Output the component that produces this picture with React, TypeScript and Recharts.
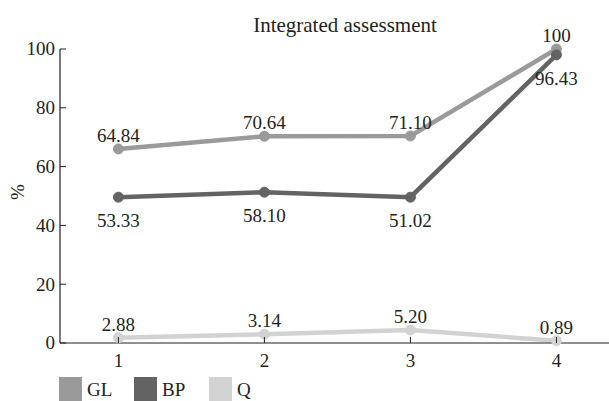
import * as React from "react"
import { LineChart, Line, XAxis, YAxis, LabelList } from "recharts"

// values (point positions), labels as printed
const categories = [1, 2, 3, 4]
const glValues = [66, 70.3, 70.4, 100]
const bpValues = [49.6, 51.3, 49.6, 98]
const qValues = [1.8, 3.0, 4.4, 0.8]
const glLabels = ["64.84", "70.64", "71.10", "100"]
const bpLabels = ["53.33", "58.10", "51.02", "96.43"]
const qLabels = ["2.88", "3.14", "5.20", "0.89"]
const yTicks = [0, 20, 40, 60, 80, 100]

const seriesNames = ["GL", "BP", "Q"]
const seriesColors = ["#9a9a9a", "#636363", "#d2d2d2"]

const data = categories.map((c, i) => ({
  x: c,
  GL: glValues[i],
  BP: bpValues[i],
  Q: qValues[i],
  GLLabel: glLabels[i],
  BPLabel: bpLabels[i],
  QLabel: qLabels[i],
}))

const FONT = "'Liberation Serif', 'DejaVu Serif', serif"
const INK = "#231f20"

const YTick = ({ x, y, payload }: any) => (
  <g>
    <line x1={x + 5} x2={x + 11} y1={y} y2={y} stroke={INK} strokeWidth={1} />
    <text x={x} y={y} dy="0.34em" textAnchor="end" fontFamily={FONT} fontSize={19} fill={INK}>
      {payload.value}
    </text>
  </g>
)

const XTick = ({ x, y, payload }: any) => (
  <g>
    <line x1={x} x2={x} y1={y} y2={y - 6} stroke={INK} strokeWidth={1} />
    <text x={x} y={y + 24} textAnchor="middle" fontFamily={FONT} fontSize={19} fill={INK}>
      {payload.value}
    </text>
  </g>
)

const makeLabel = (below: boolean) => (props: any) => {
  const { x, y, value } = props
  return (
    <text
      x={x}
      y={below ? y + 30 : y - 7}
      textAnchor="middle"
      fontFamily={FONT}
      fontSize={19}
      fill={INK}
    >
      {value}
    </text>
  )
}

export default function App() {
  return (
    <div style={{ position: "absolute", left: 0, top: 0, width: 609, height: 401, background: "#fff", overflow: "hidden" }}>
      <LineChart width={609} height={401} data={data} margin={{ top: 49, right: 0, bottom: 0, left: 0 }}>
        <XAxis
          dataKey="x"
          type="number"
          domain={[0.6, 4.36]}
          ticks={categories}
          allowDataOverflow
          height={58}
          tickSize={0}
          tickMargin={0}
          tickLine={false}
          axisLine={{ stroke: INK, strokeWidth: 1.2 }}
          tick={<XTick />}
        />
        <YAxis
          domain={[0, 100]}
          ticks={yTicks}
          width={60}
          tickSize={0}
          tickMargin={5}
          tickLine={false}
          axisLine={{ stroke: INK, strokeWidth: 1.2 }}
          tick={<YTick />}
        />
        <Line
          dataKey="GL"
          stroke={seriesColors[0]}
          strokeWidth={4.5}
          dot={{ r: 5, fill: seriesColors[0], stroke: seriesColors[0], strokeWidth: 1 }}
          isAnimationActive={false}
        >
          <LabelList dataKey="GLLabel" content={makeLabel(false)} />
        </Line>
        <Line
          dataKey="BP"
          stroke={seriesColors[1]}
          strokeWidth={4.5}
          dot={{ r: 5, fill: seriesColors[1], stroke: seriesColors[1], strokeWidth: 1 }}
          isAnimationActive={false}
        >
          <LabelList dataKey="BPLabel" content={makeLabel(true)} />
        </Line>
        <Line
          dataKey="Q"
          stroke={seriesColors[2]}
          strokeWidth={4.5}
          dot={{ r: 5, fill: seriesColors[2], stroke: seriesColors[2], strokeWidth: 1 }}
          isAnimationActive={false}
        >
          <LabelList dataKey="QLabel" content={makeLabel(false)} />
        </Line>
      </LineChart>

      {/* title */}
      <div
        style={{
          position: "absolute", left: 235, top: 12, width: 220, textAlign: "center",
          fontFamily: FONT, fontSize: 21, color: INK, lineHeight: "26px", whiteSpace: "nowrap",
        }}
      >
        Integrated assessment
      </div>

      {/* y axis title */}
      <div
        style={{
          position: "absolute", left: 8, top: 180, width: 20, height: 24, textAlign: "center",
          fontFamily: FONT, fontSize: 19, color: INK, lineHeight: "24px",
          transform: "rotate(-90deg)",
        }}
      >
        %
      </div>

      {/* legend */}
      <div style={{ position: "absolute", left: 59, top: 377, height: 24, display: "flex", fontFamily: FONT, fontSize: 19, color: INK }}>
        {seriesNames.map((name, i) => (
          <div key={name} style={{ display: "flex", alignItems: "flex-end", width: 75, height: 24 }}>
            <div style={{ width: 23, height: 24, background: seriesColors[i] }} />
            <span style={{ marginLeft: 5, lineHeight: "22px" }}>{name}</span>
          </div>
        ))}
      </div>
    </div>
  )
}
